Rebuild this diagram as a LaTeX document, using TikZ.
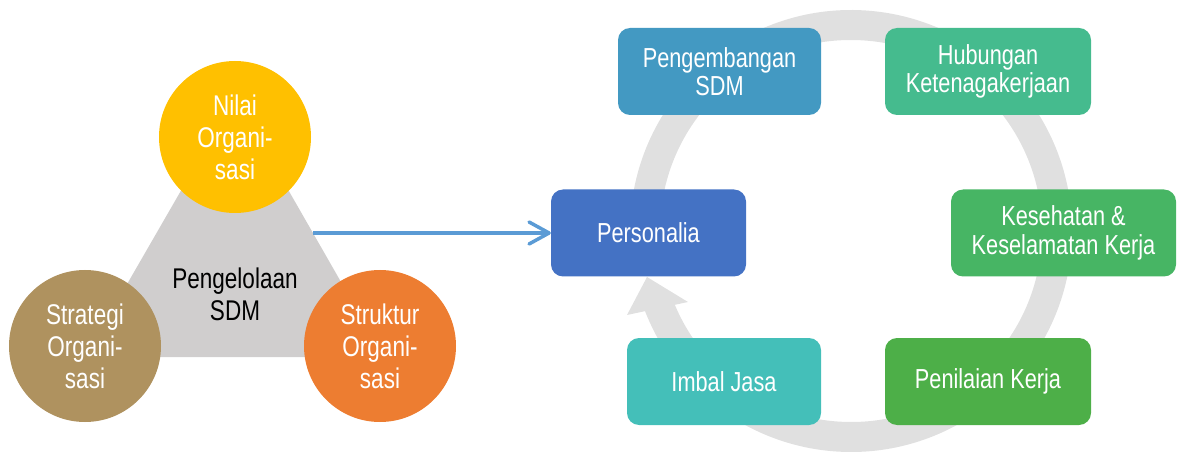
\documentclass[tikz,border=0pt]{standalone}
\usepackage{fontspec}
\setmainfont{Liberation Sans}[FakeStretch=0.79]
\usetikzlibrary{arrows.meta}
\definecolor{cYellow}{HTML}{FFC000}
\definecolor{cBrown}{HTML}{AF925F}
\definecolor{cOrange}{HTML}{ED7D31}
\definecolor{cTri}{HTML}{D0CECE}
\definecolor{cArrow}{HTML}{5B9BD5}
\definecolor{cRing}{HTML}{E0E0E0}
\definecolor{cPeng}{HTML}{4399C2}
\definecolor{cHub}{HTML}{45BB8E}
\definecolor{cPers}{HTML}{4472C4}
\definecolor{cKes}{HTML}{47B564}
\definecolor{cImbal}{HTML}{44BFB9}
\definecolor{cPen}{HTML}{4DAF48}
\tikzset{
  circnode/.style={circle, minimum size=152pt, inner sep=0pt, align=center, text=white,
    font=\fontsize{28.5pt}{32pt}\selectfont},
  boxnode/.style={rectangle, rounded corners=12pt, minimum height=87pt, inner sep=0pt,
    align=center, text=white, font=\fontsize{27.5pt}{28.5pt}\selectfont},
  midtext/.style={align=center, text=black, inner sep=0pt, font=\fontsize{28.5pt}{32pt}\selectfont},
  ringline/.style={draw=cRing, line width=30pt},
  linkarrow/.style={draw=cArrow, line width=3.5pt,
    -{Straight Barb[length=20pt,width=22pt,line cap=round,line join=round]}}
}
\begin{document}
\begin{tikzpicture}[x=1pt,y=-1pt]
\useasboundingbox (0,0) rectangle (1178,454);
% left part
\fill[cTri] (235,97) -- (85,357) -- (384,357) -- cycle;
\node[midtext] (pengelolaan) at (235,294) {Pengelolaan\\SDM};
\node[circnode, fill=cYellow] (nilai) at (235,137) {Nilai\\Organi-\\sasi};
\node[circnode, fill=cBrown] (strategi) at (85,346) {Strategi\\Organi-\\sasi};
\node[circnode, fill=cOrange] (struktur) at (380,346) {Struktur\\Organi-\\sasi};
% ring
\coordinate (rc) at (851,231);
\draw[ringline] (rc) ++(185:206) arc[start angle=185, end angle=520, radius=206];
\coordinate (ahTip) at (647,277);
\coordinate (ahL) at (627,315);
\coordinate (ahR) at (688,302);
\fill[cRing] (ahTip) -- (ahL) -- (ahR) -- cycle;
% boxes
\node[boxnode, fill=cPeng, minimum width=203pt] (peng) at (719.5,71.5) {Pengembangan\\SDM};
\node[boxnode, fill=cHub, minimum width=206pt] (hub) at (988,71.5) {Hubungan\\Ketenagakerjaan};
\node[boxnode, fill=cPers, minimum width=195pt] (pers) at (648.5,233) {Personalia};
\node[boxnode, fill=cKes, minimum width=225pt] (kes) at (1063.5,233) {Kesehatan \&\\Keselamatan Kerja};
\node[boxnode, fill=cImbal, minimum width=194pt] (imbal) at (724,381.5) {Imbal Jasa};
\node[boxnode, fill=cPen, minimum width=206pt] (pen) at (988,381.5) {Penilaian Kerja};
% link arrow
\coordinate (astart) at (313,233);
\draw[linkarrow] (astart) -- (pers.west);
\end{tikzpicture}
\end{document}
